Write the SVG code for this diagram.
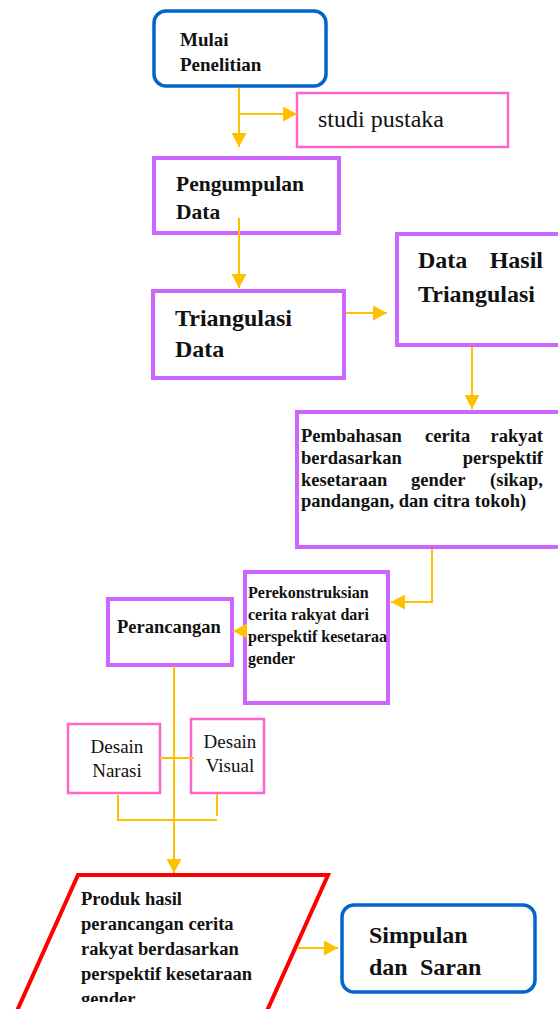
<svg xmlns="http://www.w3.org/2000/svg" width="558" height="1009" viewBox="0 0 558 1009">
<style>
.t{font-family:"Liberation Serif","Times New Roman",serif;fill:#111}
.b{font-weight:bold}
.blue{fill:#fff;stroke:#0066CC;stroke-width:3.5}
.purple{fill:#fff;stroke:#CC66FF;stroke-width:4}
.pink{fill:#fff;stroke:#FF66CC;stroke-width:2.5}
.red{fill:#fff;stroke:#FF0000;stroke-width:4}
.c{fill:none;stroke:#FFC000;stroke-width:2}
</style>
<defs>
<marker id="ah" markerUnits="userSpaceOnUse" markerWidth="16" markerHeight="16" refX="14" refY="7.5" orient="auto">
<path d="M0,0 L14,7.5 L0,15 z" fill="#FFC000"/>
</marker>
<clipPath id="clipP"><rect x="0" y="860" width="558" height="142"/></clipPath>
</defs>
<rect width="558" height="1009" fill="#fff"/>

<g id="n-mulai">
<rect class="blue" x="154" y="11" width="172" height="75" rx="12"/>
<text class="t b" font-size="19" x="180" y="46">Mulai</text>
<text class="t b" font-size="19" x="180" y="71">Penelitian</text>
</g>

<g id="n-studi">
<rect class="pink" x="297" y="93" width="211" height="54" stroke-width="2"/>
<text class="t" font-size="24" x="318" y="127">studi pustaka</text>
</g>

<g id="n-pengumpulan">
<rect class="purple" x="154" y="158" width="185" height="75"/>
<text class="t b" font-size="21.5" x="176" y="191">Pengumpulan</text>
<text class="t b" font-size="21.5" x="176" y="219">Data</text>
</g>

<g id="n-triangulasi">
<rect class="purple" x="153" y="291" width="191" height="87"/>
<text class="t b" font-size="24" x="175" y="326">Triangulasi</text>
<text class="t b" font-size="24" x="175" y="357">Data</text>
</g>

<g id="n-datahasil">
<rect class="purple" x="397" y="234" width="170" height="111"/>
<text class="t b" font-size="24" y="268"><tspan x="418">Data</tspan><tspan x="543" text-anchor="end">Hasil</tspan></text>
<text class="t b" font-size="24" x="418" y="302">Triangulasi</text>
</g>

<g id="n-pembahasan">
<rect class="purple" x="297" y="412" width="270" height="135"/>
<text class="t b" font-size="18.5" y="442"><tspan x="301">Pembahasan</tspan><tspan x="425">cerita</tspan><tspan x="543" text-anchor="end">rakyat</tspan></text>
<text class="t b" font-size="18.5" y="464"><tspan x="301">berdasarkan</tspan><tspan x="543" text-anchor="end">perspektif</tspan></text>
<text class="t b" font-size="18.5" y="486"><tspan x="301">kesetaraan</tspan><tspan x="411">gender</tspan><tspan x="543" text-anchor="end">(sikap,</tspan></text>
<text class="t b" font-size="18.5" x="301" y="507">pandangan, dan citra tokoh)</text>
</g>

<g id="n-perekonstruksian">
<rect class="purple" x="245" y="572" width="143" height="131"/>
<text class="t b" font-size="16" x="248" y="598">Perekonstruksian</text>
<text class="t b" font-size="16" x="248" y="620">cerita rakyat dari</text>
<text class="t b" font-size="16" x="248" y="642">perspektif kesetaraa</text>
<text class="t b" font-size="16" x="248" y="664">gender</text>
</g>

<g id="n-perancangan">
<rect class="purple" x="108" y="599" width="124" height="66"/>
<text class="t b" font-size="18.5" x="117" y="633">Perancangan</text>
</g>

<g id="n-narasi">
<rect class="pink" x="68" y="724" width="92" height="69"/>
<text class="t" font-size="19" x="117" y="753" text-anchor="middle">Desain</text>
<text class="t" font-size="19" x="117" y="777" text-anchor="middle">Narasi</text>
</g>

<g id="n-visual">
<rect class="pink" x="191" y="719" width="73" height="74"/>
<text class="t" font-size="19" x="230" y="748" text-anchor="middle">Desain</text>
<text class="t" font-size="19" x="230" y="772" text-anchor="middle">Visual</text>
</g>

<g id="n-produk">
<polygon class="red" points="78,875 328,875 262,1022 12,1022"/>
<g clip-path="url(#clipP)">
<text class="t b" font-size="18.5" x="81" y="905">Produk hasil</text>
<text class="t b" font-size="18.5" x="81" y="930">perancangan cerita</text>
<text class="t b" font-size="18.5" x="81" y="955">rakyat berdasarkan</text>
<text class="t b" font-size="18.5" x="81" y="980">perspektif kesetaraan</text>
<text class="t b" font-size="18.5" x="81" y="1005">gender</text>
</g>
</g>

<g id="n-simpulan">
<rect class="blue" x="342" y="905" width="193" height="87" rx="12"/>
<text class="t b" font-size="24" x="369" y="943">Simpulan</text>
<text class="t b" font-size="24" y="975"><tspan x="369">dan</tspan><tspan x="420">Saran</tspan></text>
</g>

<g id="connectors">
<line class="c" x1="239" y1="88" x2="239" y2="147" marker-end="url(#ah)"/>
<line class="c" x1="240" y1="114" x2="297" y2="114" marker-end="url(#ah)"/>
<line class="c" x1="239" y1="218" x2="239" y2="288" marker-end="url(#ah)"/>
<line class="c" x1="346" y1="313" x2="387" y2="313" marker-end="url(#ah)"/>
<line class="c" x1="472" y1="347" x2="472" y2="409" marker-end="url(#ah)"/>
<polyline class="c" points="432,549 432,602 391,602" marker-end="url(#ah)"/>
<line class="c" x1="245" y1="631" x2="233" y2="631" marker-end="url(#ah)"/>
<line class="c" x1="174" y1="666" x2="174" y2="873" marker-end="url(#ah)"/>
<line class="c" x1="160" y1="758" x2="194" y2="758"/>
<polyline class="c" points="118,795 118,820 217,820"/>
<line class="c" x1="217" y1="794" x2="217" y2="816"/>
<line class="c" x1="297" y1="948" x2="338" y2="948" marker-end="url(#ah)"/>
</g>
</svg>
